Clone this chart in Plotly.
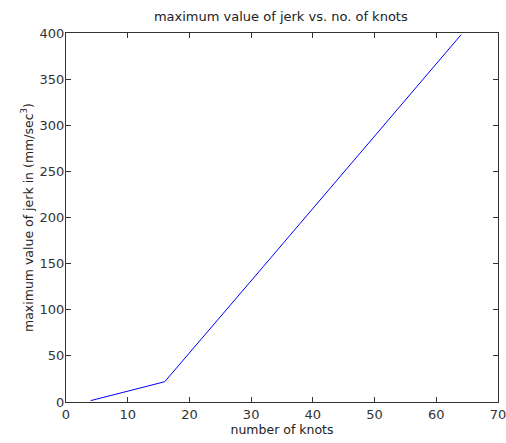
import plotly.graph_objects as go

knots = [4, 8, 16, 32, 64]
max_jerk = [1.5, 8.5, 22, 147, 398]

x_ticks = [0, 10, 20, 30, 40, 50, 60, 70]
y_ticks = [0, 50, 100, 150, 200, 250, 300, 350, 400]

fig = go.Figure()
fig.add_trace(go.Scatter(x=knots, y=max_jerk, mode="lines",
                         line=dict(color="#0000ff", width=1), showlegend=False))

axis_common = dict(showline=True, linecolor="#333333", linewidth=1, mirror="ticks",
                   ticks="inside", ticklen=5, tickcolor="#333333",
                   showgrid=False, zeroline=False, ticklabeloverflow="allow",
                   automargin=False,
                   tickfont=dict(family="DejaVu Sans", size=13, color="#333333"))

fig.update_layout(
    width=506, height=443,
    margin=dict(l=66, r=8, t=33, b=41),
    paper_bgcolor="white", plot_bgcolor="white",
    title=dict(text="maximum value of jerk vs. no. of knots", x=0.555, xanchor="center",
               y=0.963, yanchor="middle",
               font=dict(family="DejaVu Sans", size=13, color="#222222")),
    xaxis=dict(range=[0, 70], tickvals=x_ticks, ticktext=[str(v) for v in x_ticks],
               title=dict(text="number of knots", standoff=3,
                          font=dict(family="DejaVu Sans", size=12.5, color="#222222")),
               **axis_common),
    yaxis=dict(range=[0, 400], tickvals=y_ticks, ticktext=[str(v) for v in y_ticks],
               ticklabelstandoff=-2,
               title=dict(text="maximum value of jerk in (mm/sec<sup>3</sup>)", standoff=3,
                          font=dict(family="DejaVu Sans", size=12.5, color="#222222")),
               **axis_common),
)

fig.write_html("out.html")
